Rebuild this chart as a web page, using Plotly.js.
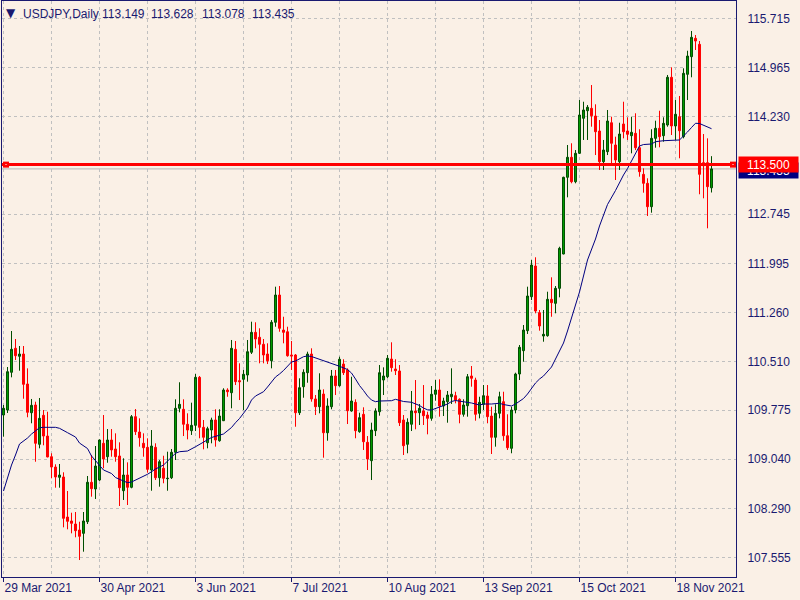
<!DOCTYPE html>
<html><head><meta charset="utf-8">
<script src="https://cdn.plot.ly/plotly-3.0.1.min.js"></script>
<style>html,body{margin:0;padding:0;background:#faf0e6;}#chart{width:800px;height:600px;}</style>
</head><body><div id="chart"></div>
<script>
const dates = [
"2021-03-29","2021-03-30","2021-03-31",
"2021-04-01","2021-04-02","2021-04-05","2021-04-06","2021-04-07","2021-04-08","2021-04-09","2021-04-12","2021-04-13","2021-04-14","2021-04-15","2021-04-16","2021-04-19","2021-04-20","2021-04-21","2021-04-22","2021-04-23","2021-04-26","2021-04-27","2021-04-28","2021-04-29","2021-04-30",
"2021-05-03","2021-05-04","2021-05-05","2021-05-06","2021-05-07","2021-05-10","2021-05-11","2021-05-12","2021-05-13","2021-05-14","2021-05-17","2021-05-18","2021-05-19","2021-05-20","2021-05-21","2021-05-24","2021-05-25","2021-05-26","2021-05-27","2021-05-28","2021-05-31",
"2021-06-01","2021-06-02","2021-06-03","2021-06-04","2021-06-07","2021-06-08","2021-06-09","2021-06-10","2021-06-11","2021-06-14","2021-06-15","2021-06-16","2021-06-17","2021-06-18","2021-06-21","2021-06-22","2021-06-23","2021-06-24","2021-06-25","2021-06-28","2021-06-29","2021-06-30",
"2021-07-01","2021-07-02","2021-07-05","2021-07-06","2021-07-07","2021-07-08","2021-07-09","2021-07-12","2021-07-13","2021-07-14","2021-07-15","2021-07-16","2021-07-19","2021-07-20","2021-07-21","2021-07-22","2021-07-23","2021-07-26","2021-07-27","2021-07-28","2021-07-29","2021-07-30",
"2021-08-02","2021-08-03","2021-08-04","2021-08-05","2021-08-06","2021-08-09","2021-08-10","2021-08-11","2021-08-12","2021-08-13","2021-08-16","2021-08-17","2021-08-18","2021-08-19","2021-08-20","2021-08-23","2021-08-24","2021-08-25","2021-08-26","2021-08-27","2021-08-30","2021-08-31",
"2021-09-01","2021-09-02","2021-09-03","2021-09-06","2021-09-07","2021-09-08","2021-09-09","2021-09-10","2021-09-13","2021-09-14","2021-09-15","2021-09-16","2021-09-17","2021-09-20","2021-09-21","2021-09-22","2021-09-23","2021-09-24","2021-09-27","2021-09-28","2021-09-29","2021-09-30",
"2021-10-01","2021-10-04","2021-10-05","2021-10-06","2021-10-07","2021-10-08","2021-10-11","2021-10-12","2021-10-13","2021-10-14","2021-10-15","2021-10-18","2021-10-19","2021-10-20","2021-10-21","2021-10-22","2021-10-25","2021-10-26","2021-10-27","2021-10-28","2021-10-29",
"2021-11-01","2021-11-02","2021-11-03","2021-11-04","2021-11-05","2021-11-08","2021-11-09","2021-11-10","2021-11-11","2021-11-12","2021-11-15","2021-11-16","2021-11-17","2021-11-18","2021-11-19","2021-11-22","2021-11-23","2021-11-24","2021-11-25","2021-11-26","2021-11-29","2021-11-30",
"2021-12-01"];

const open = [109.709,109.785,110.356,110.719,110.598,110.633,110.179,109.744,109.861,109.266,109.705,109.391,109.078,108.922,108.766,108.771,108.165,108.105,108.059,107.968,107.918,108.094,108.691,108.589,108.725,109.281,109.078,109.331,109.195,109.089,108.563,108.801,108.615,109.684,109.452,109.281,109.220,108.877,109.220,108.760,108.903,108.745,108.760,109.145,109.811,109.796,109.569,109.472,109.553,110.280,109.523,109.290,109.482,109.634,109.320,109.623,110.088,110.047,110.704,110.229,110.250,110.315,110.659,110.961,110.886,110.780,110.633,110.531,111.113,111.526,110.996,110.970,110.618,110.618,109.744,110.138,110.350,110.633,109.952,109.835,110.027,109.441,109.835,110.300,110.153,110.481,110.391,109.770,109.901,109.457,109.720,109.296,109.018,109.472,109.759,110.239,110.289,110.557,110.406,110.376,109.634,109.266,109.569,109.770,109.744,109.770,109.709,109.659,110.023,110.088,109.846,109.911,109.986,110.002,109.947,109.720,109.850,110.300,110.239,109.735,109.871,109.997,109.694,109.372,109.735,109.911,109.396,109.205,109.785,110.330,110.683,110.986,111.500,111.965,111.258,110.905,110.910,111.461,111.400,111.627,112.147,113.308,113.611,113.241,113.671,114.201,114.316,114.352,114.236,114.009,113.544,113.696,114.134,113.797,113.544,114.115,114.009,113.938,113.974,113.756,113.353,113.217,112.863,113.898,114.050,113.938,114.100,114.822,114.085,114.225,113.923,114.867,115.134,115.412,115.321,113.529,113.529,113.149];
const high = [109.861,110.436,110.981,110.860,110.754,110.754,110.416,109.952,109.911,109.967,109.785,109.759,109.130,108.963,108.968,108.842,108.559,108.230,108.241,108.094,108.241,108.786,109.104,109.240,109.340,109.709,109.497,109.497,109.432,109.296,109.054,108.993,109.709,109.800,109.659,109.432,109.356,109.482,109.281,109.028,109.093,109.154,109.195,109.947,110.205,109.947,109.735,109.896,110.330,110.300,109.634,109.532,109.669,109.796,109.796,110.114,110.114,110.845,110.830,110.492,110.391,110.845,111.122,111.113,111.022,110.860,110.795,111.147,111.652,111.662,111.197,111.046,110.830,110.633,110.265,110.401,110.668,110.719,110.012,110.341,110.098,109.962,110.391,110.391,110.592,110.553,110.416,110.289,109.947,109.744,109.826,109.391,109.593,109.811,110.466,110.431,110.618,110.810,110.553,110.466,109.709,109.659,110.073,110.239,109.876,110.163,109.759,110.148,110.239,110.250,109.971,110.073,110.416,110.062,109.962,109.947,110.330,110.451,110.274,109.986,110.163,110.163,109.835,109.871,110.062,110.062,109.720,109.835,110.350,110.769,111.072,111.652,112.056,112.097,111.299,111.299,111.576,111.794,111.662,112.257,113.317,113.797,113.823,113.721,114.478,114.452,114.402,114.705,114.413,114.175,113.873,114.327,114.225,113.923,114.134,114.452,114.216,114.225,114.277,114.035,113.444,113.293,114.035,114.165,114.316,114.216,114.857,114.973,114.478,114.539,114.958,115.224,115.523,115.462,115.371,113.963,113.898,113.628];
const low = [109.381,109.740,110.280,110.542,110.380,109.956,109.675,109.584,109.002,109.205,109.251,109.069,108.751,108.609,108.609,108.009,107.979,107.918,107.858,107.514,107.640,108.059,108.473,108.438,108.710,108.903,108.987,109.078,109.002,108.332,108.423,108.347,108.600,109.407,109.230,109.078,108.836,108.563,108.725,108.624,108.676,108.563,108.740,109.028,109.750,109.391,109.341,109.407,109.467,109.357,109.190,109.205,109.281,109.230,109.305,109.618,109.986,109.811,110.163,109.936,109.785,110.214,110.633,110.719,110.492,110.492,110.481,110.416,111.046,110.970,110.795,110.592,110.391,109.532,109.709,109.971,110.198,109.911,109.709,109.735,109.063,109.320,109.796,110.012,110.138,110.315,109.573,109.759,109.357,109.441,109.180,108.877,108.725,109.391,109.699,110.012,110.265,110.365,110.315,109.543,109.104,109.130,109.467,109.493,109.558,109.558,109.417,109.623,109.926,109.684,109.694,109.593,109.876,109.886,109.584,109.684,109.684,110.138,109.623,109.659,109.785,109.584,109.119,109.230,109.659,109.320,109.180,109.130,109.735,110.239,110.516,110.936,111.450,111.249,110.986,110.819,110.895,111.197,111.249,111.491,112.142,113.005,113.217,113.217,113.661,113.873,113.873,114.074,113.645,113.419,113.419,113.645,113.520,113.267,113.419,113.898,113.873,113.671,113.721,113.317,113.075,112.722,112.772,113.756,113.762,113.847,114.074,113.948,113.873,113.596,113.898,114.478,114.822,115.235,113.051,112.990,112.536,113.078];
const close = [109.811,110.365,110.704,110.607,110.633,110.174,109.750,109.856,109.281,109.659,109.391,109.074,108.922,108.771,108.801,108.145,108.100,108.070,107.958,107.873,108.105,108.691,108.594,108.937,109.331,109.043,109.331,109.180,109.078,108.609,108.801,108.615,109.684,109.457,109.366,109.214,108.887,109.240,108.760,109.002,108.751,108.751,109.145,109.811,109.871,109.569,109.482,109.553,110.280,109.523,109.372,109.502,109.634,109.331,109.694,110.088,110.062,110.719,110.214,110.214,110.326,110.668,110.961,110.860,110.780,110.618,110.531,111.113,111.526,111.022,110.961,110.607,110.603,109.744,110.123,110.356,110.633,109.952,109.835,110.088,109.441,109.846,110.300,110.153,110.553,110.350,109.774,109.921,109.472,109.669,109.305,109.043,109.482,109.770,110.350,110.300,110.568,110.426,110.380,109.593,109.245,109.599,109.770,109.744,109.811,109.699,109.659,110.023,110.088,109.846,109.921,110.012,110.023,109.936,109.720,109.861,110.289,110.265,109.720,109.901,110.002,109.684,109.372,109.735,109.986,109.396,109.214,109.785,110.330,110.734,110.996,111.511,111.980,111.284,111.057,110.931,111.461,111.410,111.627,112.233,113.308,113.611,113.241,113.671,114.251,114.327,114.368,114.240,113.998,113.544,113.721,114.160,113.823,113.570,113.963,113.998,113.959,113.989,113.756,113.393,113.217,112.863,113.898,114.050,113.923,114.125,114.822,114.085,114.262,114.013,114.882,115.144,115.427,115.371,113.353,113.484,113.166,113.435];

// moving average line, read at selected bars (bar number in dates)
const maBar = [0,1,2,3,4,6,7,9,10,13,14,16,18,19,21,22,23,25,27,28,30,31,32,34,36,37,38,40,42,43,44,46,48,49,51,52,55,57,58,59,61,62,63,65,66,68,69,70,72,73,75,76,77,79,81,82,84,86,87,88,89,90,91,92,93,94,97,98,99,100,102,104,105,106,107,108,110,111,112,113,115,117,119,120,122,124,125,127,128,129,130,131,132,133,134,135,137,139,140,141,143,144,146,148,149,151,153,154,155,156,157,158,159,160,162,163,165,169,170,171,172,173,174,175,176,177];
const maVal = [108.559,108.775,108.952,109.104,109.270,109.361,109.421,109.517,109.523,109.523,109.508,109.442,109.376,109.285,109.202,109.089,109.013,108.877,108.824,108.763,108.710,108.685,108.695,108.748,108.812,108.851,108.892,108.952,109.066,109.130,109.154,109.164,109.229,109.263,109.331,109.369,109.422,109.520,109.593,109.656,109.815,109.936,109.997,110.062,110.133,110.285,110.330,110.383,110.512,110.527,110.592,110.603,110.595,110.553,110.516,110.492,110.447,110.398,110.345,110.254,110.156,110.080,109.997,109.936,109.911,109.921,109.926,109.947,109.929,109.914,109.902,109.853,109.815,109.788,109.785,109.811,109.853,109.876,109.914,109.929,109.914,109.891,109.861,109.876,109.876,109.887,109.868,109.846,109.876,109.921,109.959,110.027,110.118,110.194,110.254,110.300,110.436,110.663,110.799,110.981,111.390,111.572,112.056,112.374,112.571,112.896,113.108,113.237,113.343,113.441,113.555,113.691,113.782,113.804,113.812,113.847,113.862,113.873,113.926,113.994,114.062,114.126,114.122,114.100,114.069,114.044];

const tickDates = ["2021-03-29","2021-04-30","2021-06-03","2021-07-07","2021-08-10","2021-09-13","2021-10-15","2021-11-18"];
const tickLabels = ["29 Mar 2021","30 Apr 2021","3 Jun 2021","7 Jul 2021","10 Aug 2021","13 Sep 2021","15 Oct 2021","18 Nov 2021"];
const gridDates = ["2021-04-14","2021-05-18","2021-06-21","2021-07-23","2021-08-26","2021-09-29","2021-11-02"];
const priceTicks = [115.715,114.973,114.231,113.490,112.748,112.006,111.264,110.522,109.781,109.039,108.297,107.555];
const priceLabels = ["115.715","114.965","114.230","","112.745","111.995","111.260","110.510","109.775","109.040","108.290","107.555"];
const symbol = "USDJPY,Daily";
const lastBar = ["113.149","113.628","113.078","113.435"];
const levelPrice = 113.500;
const bidPrice = 113.435;

const barX = dates.map((d, i) => i);
const idx = d => dates.indexOf(d);
const navy = '#191970';
const fnt = 'Liberation Sans, Arial, sans-serif';

const traces = [
  {type:'candlestick', x:barX, open:open, high:high, low:low, close:close,
   increasing:{line:{color:'#004d00', width:1}, fillcolor:'#00a000'},
   decreasing:{line:{color:'#ff0000', width:1}, fillcolor:'#ff0000'},
   whiskerwidth:0, hoverinfo:'skip', showlegend:false},
  {type:'scatter', mode:'lines', x:maBar, y:maVal, line:{color:'#000080', width:1}, hoverinfo:'skip', showlegend:false}
];

const titleX = [21.7, 100.7, 150, 200.7, 250.7];
const titleParts = [symbol].concat(lastBar);
const annotations = titleParts.map((t, k) => ({
  xref:'paper', yref:'paper', x:0, y:1, xanchor:'left', yanchor:'middle',
  xshift: titleX[k] - 2, yshift: -12.5, text:t, showarrow:false, borderpad:0,
  font:{family:fnt, size:12, color:navy}
}));
annotations.push({xref:'paper', yref:'paper', x:0, y:1, xanchor:'center', yanchor:'middle',
  xshift: 8.5, yshift:-11.5, text:'▼', showarrow:false, borderpad:0,
  font:{family:'DejaVu Sans', size:12, color:navy}});
annotations.push({xref:'paper', yref:'y', x:1, y:bidPrice, xanchor:'left', yanchor:'middle', xshift:2, yshift:-2,
  text:bidPrice.toFixed(3), showarrow:false, bgcolor:'#000080', borderpad:0, width:59, height:15,
  font:{family:fnt, size:12, color:'#ffffff'}});
annotations.push({xref:'paper', yref:'y', x:1, y:levelPrice, xanchor:'left', yanchor:'middle', xshift:2,
  text:levelPrice.toFixed(3), showarrow:false, bgcolor:'#ff0000', borderpad:0, width:59, height:15,
  font:{family:fnt, size:12, color:'#ffffff'}});

const shapes = [
  {type:'line', xref:'paper', x0:0, x1:1, yref:'y', y0:bidPrice, y1:bidPrice, line:{color:'#b4b4b4', width:1}, layer:'below'},
  {type:'line', xref:'paper', x0:0, x1:1, yref:'y', y0:levelPrice, y1:levelPrice, line:{color:'#ff0000', width:3}},
  {type:'rect', xref:'paper', xsizemode:'pixel', xanchor:0, x0:1, x1:7, yref:'y', ysizemode:'pixel', yanchor:levelPrice, y0:-3, y1:3, fillcolor:'#ff0000', line:{width:0}},
  {type:'rect', xref:'paper', xsizemode:'pixel', xanchor:1, x0:-6, x1:0, yref:'y', ysizemode:'pixel', yanchor:levelPrice, y0:-3, y1:3, fillcolor:'#ff0000', line:{width:0}},
  {type:'rect', xref:'paper', xsizemode:'pixel', xanchor:0, x0:3.5, x1:4.5, yref:'y', ysizemode:'pixel', yanchor:levelPrice, y0:-0.5, y1:0.5, fillcolor:'#ffffff', line:{width:0}},
  {type:'rect', xref:'paper', xsizemode:'pixel', xanchor:1, x0:-3.5, x1:-2.5, yref:'y', ysizemode:'pixel', yanchor:levelPrice, y0:-0.5, y1:0.5, fillcolor:'#ffffff', line:{width:0}}
];

const layout = {
  width:800, height:600,
  paper_bgcolor:'#faf0e6', plot_bgcolor:'#faf0e6',
  margin:{l:2, r:64, t:1, b:23},
  showlegend:false,
  xaxis:{
    type:'linear', range:[-0.375, 183.125], fixedrange:true,
    rangeslider:{visible:false},
    tickmode:'array', tickvals:tickDates.map(idx), ticktext:tickLabels,
    ticks:'outside', ticklen:4, tickcolor:navy, tickwidth:1,
    ticklabelposition:'outside right',
    tickfont:{family:fnt, size:12, color:navy},
    showline:true, linecolor:navy, linewidth:1, mirror:true,
    showgrid:true, gridcolor:'#c0c0c0', griddash:'dot', gridwidth:1,
    zeroline:false,
    minor:{tickmode:'array', tickvals:gridDates.map(idx), showgrid:true, gridcolor:'#c0c0c0', griddash:'dot', gridwidth:1, ticks:''}
  },
  yaxis:{
    type:'linear', side:'right', range:[107.257, 115.977], fixedrange:true,
    tickmode:'array', tickvals:priceTicks, ticktext:priceLabels,
    ticks:'', ticklabelstandoff:8,
    tickfont:{family:fnt, size:12, color:navy},
    showline:true, linecolor:navy, linewidth:1, mirror:true,
    showgrid:true, gridcolor:'#c0c0c0', griddash:'dot', gridwidth:1,
    zeroline:false
  },
  annotations:annotations,
  shapes:shapes
};

Plotly.newPlot('chart', traces, layout, {displayModeBar:false, staticPlot:true});
</script>
</body></html>
